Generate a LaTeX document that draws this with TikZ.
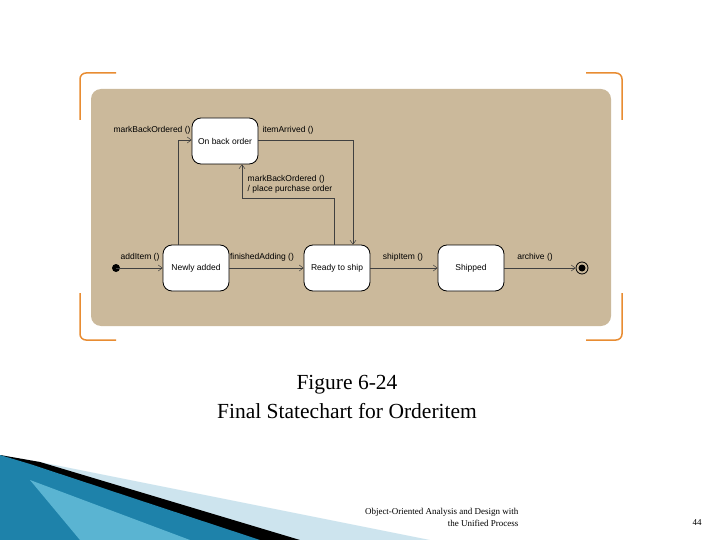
\documentclass[tikz,border=0pt]{standalone}
\usepackage{fontspec}
\setmainfont{Liberation Serif}
\newfontfamily\dia{Liberation Sans}
\usetikzlibrary{arrows.meta}
\definecolor{tan}{RGB}{203,185,155}
\definecolor{orng}{RGB}{232,140,50}
\definecolor{teal1}{RGB}{30,130,170}
\definecolor{teal2}{RGB}{90,180,210}
\definecolor{pale}{RGB}{205,228,238}
\begin{document}
\begin{tikzpicture}[x=1pt,y=-1pt,
  st/.style={draw=black,fill=white,rounded corners=9pt,line width=0.8pt,minimum width=66pt,minimum height=46pt,font=\dia\fontsize{8.5}{10}\selectfont,inner sep=1pt},
  lbl/.style={font=\dia\fontsize{8.5}{10}\selectfont,inner sep=1pt},
  tr/.style={draw=black!75,line width=0.5pt,-{Straight Barb[length=4pt,width=6pt]}},
  br/.style={draw=orng,line width=1.5pt,rounded corners=6pt}]
\useasboundingbox (0,0) rectangle (720,540);
\fill[white] (0,0) rectangle (720,540);
% bottom decoration
\fill[pale] (0,455) -- (40,462) -- (430,540) -- (0,540) -- cycle;
\fill[black] (0,455) -- (40,462) -- (300,540) -- (0,540) -- cycle;
\fill[teal1] (0,455) -- (30,464) -- (260,540) -- (0,540) -- cycle;
\fill[teal2] (30,480) -- (190,540) -- (80,540) -- cycle;
% brackets
\draw[br] (116,73) -- (80,73) -- (80,120);
\draw[br] (586,73) -- (622,73) -- (622,120);
\draw[br] (116,340) -- (80,340) -- (80,293);
\draw[br] (586,340) -- (622,340) -- (622,293);
\fill[tan,rounded corners=10pt] (91,89) rectangle (611,326);
% states
\node[st] (bo) at (225,141) {On back order};
\node[st] (na) at (196,268) {Newly added};
\node[st] (rs) at (337,268) {Ready to ship};
\node[st] (sh) at (471,268) {Shipped};
\fill (116,268) circle (4pt) coordinate (init);
\node[circle,draw,line width=0.8pt,minimum size=12pt,inner sep=0] (fin) at (582,268) {};
\fill (fin) circle (3.5pt);
% transitions
\draw[tr] (init) -- (na);
\draw[tr] (na) -- (rs);
\draw[tr] (rs) -- (sh);
\draw[tr] (sh) -- (fin);
\draw[tr] (na.north -| 178,0) -- (178,140) -- (bo.west |- 0,140);
\draw[tr] (bo.east |- 0,140) -- (353,140) -- (rs.north -| 353,0);
\draw[tr] (rs.north -| 334,0) -- (334,198) -- (242,198) -- (bo.south -| 242,0);
% labels
\node[lbl] (l1) at (152,130) {markBackOrdered ()};
\node[lbl] (l2) at (288,130) {itemArrived ()};
\node[lbl,align=left] (l3) at (290,184) {markBackOrdered ()\\/ place purchase order};
\node[lbl] (l4) at (140,257) {addItem ()};
\node[lbl] (l5) at (262,257) {finishedAdding ()};
\node[lbl] (l6) at (403,257) {shipItem ()};
\node[lbl] (l7) at (535,257) {archive ()};
% caption
\node[font=\fontsize{21.5}{24}\selectfont] (c1) at (347,385) {Figure 6-24};
\node[font=\fontsize{21.5}{24}\selectfont] (c2) at (347,411) {Final Statechart for Orderitem};
\node[font=\fontsize{9}{12}\selectfont,align=right,anchor=east] (ft) at (522,517) {Object-Oriented Analysis and Design with\\the Unified Process};
\node[font=\fontsize{9}{12}\selectfont] (pg) at (697,523) {44};
\end{tikzpicture}
\end{document}
